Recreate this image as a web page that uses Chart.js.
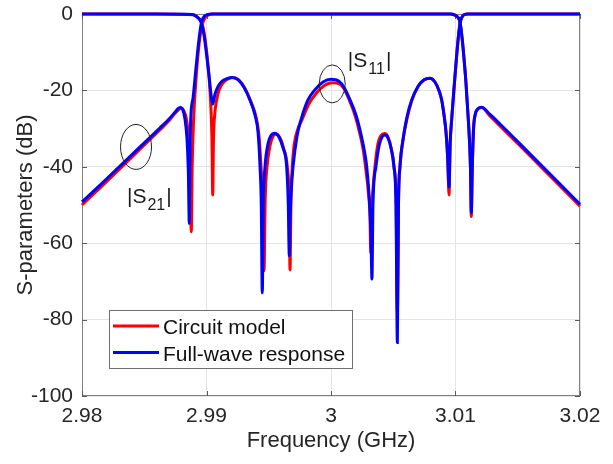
<!DOCTYPE html>
<html>
<head>
<meta charset="utf-8">
<script src="https://cdn.jsdelivr.net/npm/chart.js@4.4.0/dist/chart.umd.min.js"></script>
<style>
  body { margin: 0; background: #fff; }
  #wrap { width: 613px; height: 464px; }
</style>
</head>
<body>
<div id="wrap"><canvas id="chart" width="613" height="464"></canvas></div>
<script>
// values (GHz, dB)
const circuitS11Freq = [2.98, 2.986, 2.989, 2.98924, 2.98948, 2.98968, 2.98988, 2.99008, 2.99024, 2.99036, 2.99044, 2.9905, 2.99056, 2.99067, 2.99082, 2.991, 2.99133, 2.99173, 2.99213, 2.99261, 2.99309, 2.99357, 2.99398, 2.99422, 2.99438, 2.9945, 2.99462, 2.99472, 2.99486, 2.9951, 2.99534, 2.99558, 2.9959, 2.99622, 2.99649, 2.99663, 2.99671, 2.99679, 2.99689, 2.99703, 2.99735, 2.99767, 2.99823, 2.9988, 2.99944, 3.00008, 3.00072, 3.00112, 3.00153, 3.00193, 3.00233, 3.00261, 3.00281, 3.00301, 3.00313, 3.00319, 3.00325, 3.00337, 3.00353, 3.00377, 3.00402, 3.0043, 3.00458, 3.00482, 3.00506, 3.00522, 3.00533, 3.00543, 3.00554, 3.00578, 3.0061, 3.00648, 3.00699, 3.00747, 3.00795, 3.00835, 3.00867, 3.00889, 3.00908, 3.00924, 3.00938, 3.00948, 3.00957, 3.00969, 3.00988, 3.01004, 3.0102, 3.01036, 3.01052, 3.01068, 3.011, 3.02];
const circuitS11 = [0, 0, -0.2, -0.7, -1.5, -3, -6.5, -12, -18, -25, -33, -47.4, -33, -26, -22.5, -20, -18, -17, -16.6, -17.3, -19.5, -23, -27, -32, -40, -48, -67.2, -48, -40, -34.5, -32, -31.5, -32.4, -35.5, -40, -48, -67, -48, -40, -34.5, -30, -27.7, -23.5, -20.8, -18.8, -18, -18.4, -20, -23, -26.5, -31.5, -36, -41, -47, -53, -62.6, -52, -46, -40, -34, -31.8, -31.3, -32.2, -35, -40, -48, -78, -48, -40, -33, -27.5, -22.8, -19, -17.3, -16.8, -17.8, -20, -22.5, -26.5, -31, -38, -47.4, -34, -27.7, -19.5, -13, -7, -2.5, -0.8, -0.2, 0, 0];

const circuitS21Freq = [2.98, 2.98145, 2.98305, 2.98466, 2.98627, 2.98707, 2.98747, 2.98771, 2.98795, 2.98819, 2.98839, 2.98855, 2.98867, 2.98878, 2.98885, 2.98896, 2.98916, 2.9894, 2.98964, 2.98988, 2.99012, 2.99052, 3.00956, 3.00996, 3.0102, 3.01036, 3.01052, 3.01068, 3.01084, 3.01103, 3.01112, 3.0112, 3.01127, 3.01135, 3.01145, 3.01157, 3.01181, 3.0121, 3.01277, 3.01357, 3.01518, 3.01679, 3.01839, 3.02];
const circuitS21 = [-50, -45.5, -40.5, -35.4, -30.3, -27.6, -26, -25.2, -24.6, -25.4, -27.5, -32, -40, -57, -40, -28, -17, -8, -3, -1, -0.3, 0, 0, -0.3, -0.9, -2.2, -6, -11.5, -18, -27.7, -33, -40, -53, -40, -30, -26.5, -24.8, -24.5, -26.7, -29.3, -34.5, -39.8, -45, -50.3];

const fullwaveS11Freq = [2.98, 2.986, 2.98884, 2.989, 2.98924, 2.98944, 2.98961, 2.9898, 2.99, 2.9902, 2.99036, 2.9905, 2.99068, 2.99092, 2.99124, 2.99165, 2.99205, 2.99253, 2.99301, 2.99349, 2.9939, 2.99414, 2.9943, 2.9944, 2.99448, 2.99456, 2.9947, 2.99494, 2.99518, 2.9955, 2.99582, 2.99614, 2.99644, 2.99657, 2.99665, 2.99673, 2.99683, 2.99695, 2.99727, 2.99759, 2.99815, 2.99872, 2.99936, 3.0, 3.00064, 3.00104, 3.00153, 3.00201, 3.00241, 3.00269, 3.00287, 3.00309, 3.00321, 3.00329, 3.00337, 3.00361, 3.00386, 3.0041, 3.00434, 3.00458, 3.00482, 3.00506, 3.00522, 3.00533, 3.00542, 3.00554, 3.00578, 3.0061, 3.00648, 3.00699, 3.00747, 3.00795, 3.00835, 3.00867, 3.00889, 3.00908, 3.00924, 3.00936, 3.00948, 3.00957, 3.00969, 3.00988, 3.01004, 3.0102, 3.01036, 3.01052, 3.01068, 3.011, 3.02];
const fullwaveS11 = [0, 0, -0.1, -0.3, -0.8, -1.4, -2.5, -5.5, -10.5, -16, -21, -23.6, -21, -19, -17.6, -16.9, -16.6, -17.2, -19.2, -22.5, -26.5, -31, -40, -50, -73, -50, -40, -34, -31.8, -31.2, -32.2, -35, -40, -50, -63.3, -52, -45, -40, -32, -27.7, -22.5, -19.8, -17.8, -17.1, -17.6, -19.2, -22.5, -26.5, -31.5, -36, -40, -49, -58, -69.4, -50, -40, -34.5, -32.2, -31.7, -32.5, -35, -40, -50, -86, -50, -40, -33, -27, -22.5, -19, -17.2, -16.8, -17.8, -20, -22.5, -26.5, -31, -37, -45.3, -34, -27.7, -19.5, -13, -7, -2.5, -0.8, -0.2, 0, 0];

const fullwaveS21Freq = [2.98, 2.98145, 2.98305, 2.98466, 2.98627, 2.98707, 2.98747, 2.98771, 2.98787, 2.98811, 2.98827, 2.98843, 2.98854, 2.98862, 2.98867, 2.98873, 2.98892, 2.98916, 2.9894, 2.98961, 2.9898, 2.99004, 2.99044, 3.00956, 3.00996, 3.0102, 3.01036, 3.01052, 3.01068, 3.01084, 3.01103, 3.01112, 3.0112, 3.01127, 3.01135, 3.01145, 3.01157, 3.01181, 3.0121, 3.01277, 3.01357, 3.01518, 3.01679, 3.01839, 3.02];
const fullwaveS21 = [-49.2, -44.8, -39.8, -34.8, -29.8, -27.2, -25.7, -24.8, -24.5, -25.2, -27.5, -32.5, -41, -54.8, -38, -27.7, -22, -14, -6.5, -2, -0.7, -0.2, 0, 0, -0.3, -0.9, -2, -6, -11.5, -18, -27.7, -33, -40, -52, -40, -30, -26.5, -24.8, -24.4, -26.3, -28.8, -34, -39.3, -44.5, -49.8];

const xTicks = [2.98, 2.99, 3.0, 3.01, 3.02];
const yTicks = [-100, -80, -60, -40, -20, 0];
const seriesNames = ['Circuit model', 'Full-wave response'];

// ellipse marks and their labels (data coords)
const s11Mark = { f: 3.0001, db: -18.3, rx: 13, ry: 19 };
const s21Mark = { f: 2.98434, db: -34.8, rx: 15.5, ry: 22.5 };
const s11Label = { f: 3.00135, db: -14.0, sub: '11' };
const s21Label = { f: 2.98361, db: -49.5, sub: '21' };

const FONT = "'Liberation Sans', Arial, Helvetica, sans-serif";
const RED = '#ff0000';
const BLUE = '#0000ff';

function pts(xs, ys) {
  return xs.map((x, i) => ({ x: x, y: ys[i] }));
}

function line(label, xs, ys, color, order, legend) {
  return {
    label: label,
    data: pts(xs, ys),
    borderColor: color,
    backgroundColor: color,
    borderWidth: 3,
    pointRadius: 0,
    cubicInterpolationMode: 'monotone',
    clip: 4,
    order: order,
    inLegend: legend
  };
}

const boxPlugin = {
  id: 'box',
  beforeDatasetsDraw(chart) {
    const { ctx, chartArea: a, scales: { x, y } } = chart;
    ctx.save();
    ctx.strokeStyle = '#808080';
    ctx.lineWidth = 1;
    ctx.strokeRect(a.left + 0.5, a.top + 0.5, a.right - a.left - 1, a.bottom - a.top - 1);
    ctx.strokeStyle = '#5a5a5a';
    ctx.beginPath();
    xTicks.forEach(v => {
      const px = Math.round(x.getPixelForValue(v)) + 0.5;
      ctx.moveTo(px, a.bottom); ctx.lineTo(px, a.bottom - 5);
      ctx.moveTo(px, a.top); ctx.lineTo(px, a.top + 5);
    });
    yTicks.forEach(v => {
      const py = Math.round(y.getPixelForValue(v)) + 0.5;
      ctx.moveTo(a.left, py); ctx.lineTo(a.left + 5, py);
      ctx.moveTo(a.right, py); ctx.lineTo(a.right - 5, py);
    });
    ctx.stroke();
    ctx.restore();
  }
};

function drawSLabel(ctx, x, y, sub) {
  ctx.font = '21px ' + FONT;
  ctx.textBaseline = 'alphabetic';
  ctx.textAlign = 'left';
  ctx.fillStyle = '#1a1a1a';
  ctx.fillText('|S', x, y);
  let w = ctx.measureText('|S').width;
  ctx.font = '16px ' + FONT;
  ctx.fillText(sub, x + w + 1, y + 7);
  w += ctx.measureText(sub).width + 2;
  ctx.font = '21px ' + FONT;
  ctx.fillText('|', x + w, y);
}

const markPlugin = {
  id: 'marks',
  afterDatasetsDraw(chart) {
    const { ctx, scales: { x, y } } = chart;
    ctx.save();
    ctx.strokeStyle = '#222';
    ctx.lineWidth = 1;
    [s11Mark, s21Mark].forEach(m => {
      ctx.beginPath();
      ctx.ellipse(x.getPixelForValue(m.f), y.getPixelForValue(m.db), m.rx, m.ry, 0, 0, Math.PI * 2);
      ctx.stroke();
    });
    [s11Label, s21Label].forEach(l => {
      drawSLabel(ctx, x.getPixelForValue(l.f), y.getPixelForValue(l.db), l.sub);
    });
    ctx.restore();
  }
};

const legendPlugin = {
  id: 'boxLegend',
  afterDraw(chart) {
    const { ctx, chartArea: a } = chart;
    const items = chart.data.datasets.filter(d => d.inLegend);
    const left = a.left + 27, top = a.top + 296, w = 243, h = 58;
    ctx.save();
    ctx.fillStyle = '#fff';
    ctx.fillRect(left, top, w, h);
    ctx.strokeStyle = '#6e6e6e';
    ctx.lineWidth = 1;
    ctx.strokeRect(left + 0.5, top + 0.5, w, h);
    ctx.font = '21px ' + FONT;
    ctx.textBaseline = 'alphabetic';
    ctx.textAlign = 'left';
    items.forEach((d, i) => {
      const ly = top + 16 + i * 26.5;
      ctx.strokeStyle = d.borderColor;
      ctx.lineWidth = 3;
      ctx.beginPath();
      ctx.moveTo(left + 4, ly);
      ctx.lineTo(left + 50, ly);
      ctx.stroke();
      ctx.fillStyle = '#111';
      ctx.fillText(d.label, left + 54, ly + 8);
    });
    ctx.restore();
  }
};

const ctx = document.getElementById('chart').getContext('2d');
const myChart = new Chart(ctx, {
  type: 'line',
  data: {
    datasets: [
      line(seriesNames[0], circuitS11Freq, circuitS11, RED, 2, true),
      line(seriesNames[0], circuitS21Freq, circuitS21, RED, 2, false),
      line(seriesNames[1], fullwaveS11Freq, fullwaveS11, BLUE, 1, true),
      line(seriesNames[1], fullwaveS21Freq, fullwaveS21, BLUE, 1, false)
    ]
  },
  options: {
    responsive: false,
    animation: false,
    events: [],
    layout: { padding: { top: 14, right: 33, left: 0, bottom: 0 } },
    plugins: {
      legend: { display: false },
      tooltip: { enabled: false }
    },
    scales: {
      x: {
        type: 'linear',
        min: 2.98,
        max: 3.02,
        afterBuildTicks: s => { s.ticks = xTicks.map(v => ({ value: v })); },
        afterFit: s => { s.height = 68; s.paddingLeft = 0; s.paddingRight = 0; },
        grid: { color: '#e4e4e4', drawTicks: false },
        border: { display: false },
        ticks: {
          padding: 8,
          color: '#262626',
          font: { family: FONT, size: 21 },
          maxRotation: 0,
          callback: v => String(Math.round(v * 100) / 100)
        },
        title: {
          display: true,
          text: 'Frequency (GHz)',
          color: '#262626',
          font: { family: FONT, size: 22 },
          padding: { top: 0, bottom: 10 }
        }
      },
      y: {
        min: -100,
        max: 0,
        afterBuildTicks: s => { s.ticks = yTicks.map(v => ({ value: v })); },
        afterFit: s => { s.width = 82; s.paddingTop = 0; s.paddingBottom = 0; },
        grid: { color: '#e4e4e4', drawTicks: false },
        border: { display: false },
        ticks: {
          padding: 9,
          color: '#262626',
          font: { family: FONT, size: 21 }
        },
        title: {
          display: true,
          text: 'S-parameters (dB)',
          color: '#262626',
          font: { family: FONT, size: 22 },
          padding: { top: 13, bottom: 0 }
        }
      }
    }
  },
  plugins: [boxPlugin, markPlugin, legendPlugin]
});
</script>
</body>
</html>
